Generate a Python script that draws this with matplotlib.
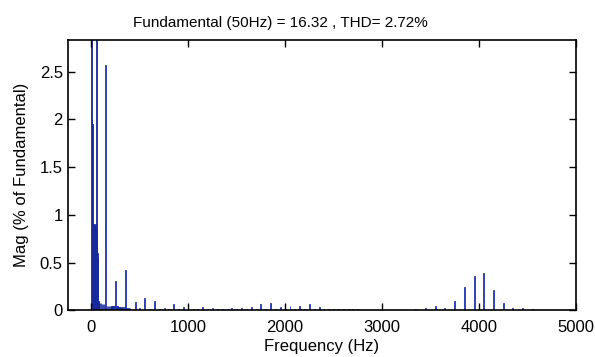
import numpy as np
import matplotlib.pyplot as plt

plt.rcParams['font.family'] = ['Liberation Sans', 'DejaVu Sans']

# dense low-frequency content around the fundamental (Hz, % of fundamental)
low_freq = [0, 5, 10, 15, 20, 25, 30, 35, 40, 45, 50, 55, 60, 65, 70, 75, 80, 90,
            100, 110, 120, 130, 140, 160, 170, 180, 190, 200, 210, 220, 230, 240,
            260, 270, 280, 290, 300, 320, 340, 360, 380, 400]
low_mag = [3.0, 2.0, 1.95, 0.9, 0.9, 0.9, 0.88, 0.88, 0.9, 0.9, 100.0, 0.85, 0.6, 0.55, 0.1,
           0.09, 0.08, 0.08, 0.08, 0.07, 0.07, 0.07, 0.06, 0.05, 0.05, 0.05, 0.05, 0.05,
           0.04, 0.04, 0.04, 0.04, 0.04, 0.04, 0.03, 0.03, 0.03, 0.03, 0.03, 0.02, 0.02, 0.02]

# harmonics and switching sidebands
harm_freq = [150, 250, 350, 450, 550, 650, 750, 850, 950, 1050, 1150, 1250, 1350,
             1450, 1550, 1650, 1750, 1850, 1950, 2050, 2150, 2250, 2350, 2450, 2550,
             2650, 2750, 2850, 3350, 3450, 3550, 3650, 3750, 3850, 3950, 4050, 4150,
             4250, 4350, 4450, 4550,
             500, 600, 700, 800, 900, 1100, 1200, 1300, 1400, 1500, 1600, 1700, 1800,
             1900, 2000, 2100, 2200, 2300, 2400, 2500, 2600, 2700]
harm_mag = [2.57, 0.31, 0.42, 0.09, 0.13, 0.10, 0.02, 0.065, 0.035, 0.015, 0.035, 0.02, 0.01,
            0.02, 0.02, 0.035, 0.065, 0.075, 0.03, 0.04, 0.04, 0.07, 0.03, 0.015, 0.01,
            0.015, 0.015, 0.005, 0.01, 0.02, 0.05, 0.02, 0.10, 0.24, 0.36, 0.39, 0.21,
            0.08, 0.02, 0.02, 0.015,
            0.02, 0.015, 0.015, 0.01, 0.01, 0.01, 0.01, 0.01, 0.01, 0.01, 0.01, 0.01, 0.01,
            0.01, 0.01, 0.01, 0.01, 0.01, 0.01, 0.01, 0.01, 0.01]

fig = plt.figure(figsize=(5.95, 3.57), dpi=100)
ax = fig.add_axes([0.1138, 0.1308, 0.8538, 0.7572])

ax.bar(low_freq, low_mag, width=6, color='#2236b4', edgecolor='#18289a', linewidth=0.6)
ax.bar(harm_freq, harm_mag, width=10, color='#3a50cc', edgecolor='#2034b0', linewidth=0.6)

ax.set_xlim(-245, 5000)
ax.set_ylim(0, 2.83)
ax.set_xticks([0, 1000, 2000, 3000, 4000, 5000])
ax.set_yticks([0, 0.5, 1, 1.5, 2, 2.5])
ax.set_yticklabels(['0', '0.5', '1', '1.5', '2', '2.5'])
ax.tick_params(direction='in', top=True, right=True, labelsize=12, length=5, width=1)
ax.tick_params(axis='x', pad=7)
for s in ax.spines.values():
    s.set_linewidth(1.2)

ax.set_title('Fundamental (50Hz) = 16.32 , THD= 2.72%', fontsize=11, pad=9, x=0.418)
ax.set_xlabel('Frequency (Hz)', fontsize=12, labelpad=3)
ax.set_ylabel('Mag (% of Fundamental)', fontsize=12, labelpad=8)

plt.savefig('out.png', dpi=100)
